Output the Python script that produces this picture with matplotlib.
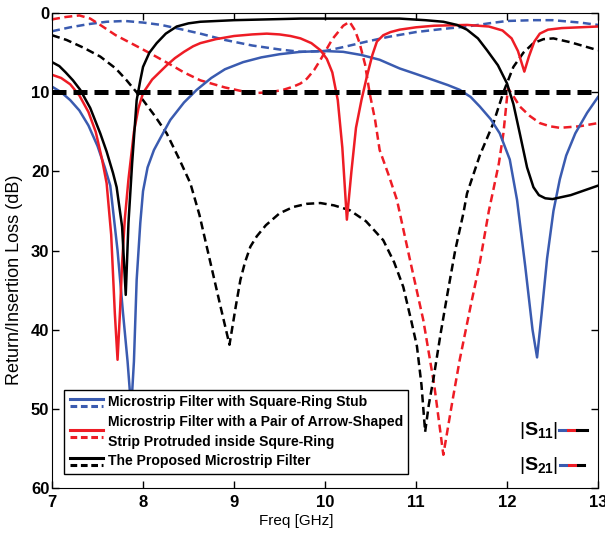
import numpy as np
import matplotlib
matplotlib.use("Agg")
import matplotlib.pyplot as plt
from matplotlib.lines import Line2D
from matplotlib.legend_handler import HandlerBase


plt.rcParams['font.family'] = ['Liberation Sans', 'DejaVu Sans']
plt.rcParams['mathtext.fontset'] = 'custom'
plt.rcParams['mathtext.rm'] = 'Liberation Sans'
plt.rcParams['mathtext.bf'] = 'Liberation Sans:bold'


# Square-ring stub filter, |S11| and |S21| (dB loss)
f_sq_s11 = [7.0, 7.1, 7.2, 7.3, 7.4, 7.5, 7.58, 7.64, 7.72, 7.78, 7.83, 7.87, 7.9, 7.93, 7.97,
            8.0, 8.05, 8.12, 8.19, 8.3, 8.45, 8.59, 8.75, 8.9, 9.1, 9.3, 9.5, 9.73, 10.0,
            10.2, 10.4, 10.6, 10.82, 11.0, 11.2, 11.35, 11.48, 11.6, 11.7, 11.82, 11.92, 12.03,
            12.11, 12.2, 12.28, 12.33, 12.38, 12.44, 12.51, 12.58, 12.65, 12.75, 12.88, 13.0]
sq_s11 = [9.3, 10.0, 11.0, 12.3, 14.2, 16.8, 19.5, 21.8, 30.0, 37.9, 44.0, 50.0, 44.0, 33.7, 26.5,
          22.5, 19.5, 17.3, 15.8, 13.5, 11.3, 9.7, 8.2, 7.1, 6.2, 5.6, 5.2, 4.9, 4.8,
          4.9, 5.3, 5.9, 7.0, 7.7, 8.5, 9.1, 9.7, 10.6, 11.8, 13.4, 15.2, 18.5,
          23.6, 32.0, 40.0, 43.5, 38.0, 31.0, 25.0, 21.0, 18.0, 15.2, 12.6, 10.6]
f_sq_s21 = [7.0, 7.2, 7.4, 7.6, 7.8, 8.0, 8.2, 8.4, 8.63, 8.9, 9.2, 9.5, 9.73, 10.0, 10.2,
            10.46, 10.7, 11.0, 11.3, 11.56, 11.8, 12.0, 12.29, 12.5, 12.8, 13.0]
sq_s21 = [2.3, 1.8, 1.4, 1.1, 1.0, 1.2, 1.5, 2.0, 2.6, 3.4, 4.1, 4.6, 4.9, 4.8, 4.3,
          3.6, 3.0, 2.4, 2.0, 1.7, 1.3, 1.0, 0.9, 0.9, 1.2, 1.5]

# Arrow-shaped strip filter
f_ar_s11 = [7.0, 7.1, 7.2, 7.3, 7.4, 7.48, 7.55, 7.6, 7.65, 7.69, 7.72, 7.75, 7.77, 7.8, 7.84,
            7.9, 7.95, 8.0, 8.1, 8.18, 8.26, 8.35, 8.45, 8.55, 8.63, 8.8, 9.0, 9.2, 9.36, 9.5,
            9.62, 9.73, 9.85, 9.95, 10.02, 10.08, 10.14, 10.19, 10.24, 10.29, 10.34, 10.4,
            10.46, 10.52, 10.57, 10.64, 10.72, 10.82, 11.0, 11.2, 11.56, 11.8, 11.95, 12.05,
            12.12, 12.19, 12.24, 12.3, 12.36, 12.45, 12.6, 12.8, 13.0]
ar_s11 = [7.8, 8.2, 9.0, 10.4, 12.5, 15.0, 18.5, 21.5, 28.0, 37.9, 43.8, 37.0, 31.6, 26.0, 21.0,
          15.0, 12.0, 10.1, 8.4, 7.5, 6.6, 5.7, 4.9, 4.2, 3.8, 3.3, 2.9, 2.7, 2.6, 2.7,
          2.9, 3.2, 3.8, 4.7, 5.8, 7.5, 11.0, 17.0, 26.1, 20.0, 14.5, 11.0,
          8.0, 5.3, 3.6, 2.8, 2.4, 2.1, 1.8, 1.6, 1.5, 1.7, 2.2, 3.2,
          4.8, 7.4, 5.5, 3.6, 2.6, 2.1, 1.9, 1.8, 1.7]
f_ar_s21 = [7.0, 7.15, 7.3, 7.42, 7.53, 7.7, 7.9, 8.08, 8.3, 8.45, 8.63, 8.9, 9.1, 9.25,
            9.4, 9.54, 9.65, 9.73, 9.8, 9.88, 9.95, 10.02, 10.08, 10.13, 10.2, 10.27, 10.33,
            10.38, 10.44, 10.49, 10.55, 10.6, 10.7, 10.79, 10.93, 11.08, 11.2, 11.3, 11.4,
            11.48, 11.6, 11.7, 11.8, 11.85, 11.91, 11.96, 12.01, 12.07, 12.14, 12.25, 12.36,
            12.47, 12.58, 12.8, 13.0]
ar_s21 = [0.8, 0.5, 0.3, 0.7, 1.5, 2.8, 4.0, 5.1, 6.5, 7.5, 8.5, 9.4, 9.9, 10.1,
          10.0, 9.7, 9.3, 8.9, 8.3, 7.2, 5.9, 4.5, 3.3, 2.6, 1.6, 1.1, 2.2,
          3.8, 6.5, 10.1, 13.5, 17.3, 20.5, 23.6, 31.0, 38.8, 47.0, 55.8, 49.0,
          43.8, 37.0, 31.6, 25.0, 22.3, 19.0, 15.2, 9.5, 10.5, 11.8, 13.0, 13.9,
          14.3, 14.5, 14.3, 13.9]

# Proposed filter
f_pr_s11 = [7.0, 7.08, 7.15, 7.23, 7.31, 7.42, 7.53, 7.6, 7.67, 7.71, 7.77, 7.81, 7.84, 7.88,
            7.93, 7.97, 8.0, 8.07, 8.15, 8.25, 8.37, 8.5, 8.63, 9.0, 9.73, 10.5, 10.82, 11.1,
            11.3, 11.45, 11.56, 11.68, 11.78, 11.9, 12.0, 12.07, 12.14, 12.22, 12.29, 12.35,
            12.42, 12.5, 12.7, 13.0]
pr_s11 = [6.2, 6.7, 7.5, 8.5, 9.7, 12.0, 15.2, 17.5, 20.2, 22.0, 27.0, 35.6, 26.5, 19.0,
          11.0, 8.5, 6.8, 5.0, 3.8, 2.6, 1.7, 1.3, 1.1, 0.9, 0.7, 0.7, 0.7, 0.9,
          1.1, 1.5, 2.1, 3.2, 4.7, 6.6, 8.9, 11.5, 15.2, 19.5, 22.0, 23.0,
          23.4, 23.5, 23.0, 21.8]
f_pr_s21 = [7.0, 7.16, 7.35, 7.53, 7.7, 7.82, 8.0, 8.13, 8.26, 8.4, 8.52, 8.62, 8.7, 8.78,
            8.85, 8.95, 9.02, 9.07, 9.12, 9.18, 9.25, 9.35, 9.5, 9.65, 9.8, 9.95, 10.1, 10.27,
            10.45, 10.64, 10.76, 10.86, 10.95, 11.01, 11.06, 11.1, 11.14, 11.19, 11.27, 11.34,
            11.43, 11.52, 11.56, 11.7, 11.85, 11.96, 12.07, 12.18, 12.29, 12.4, 12.51,
            12.7, 12.85, 13.0]
pr_s21 = [2.8, 3.4, 4.4, 5.5, 7.0, 8.5, 11.0, 13.0, 15.2, 18.5, 21.5, 25.5, 29.5, 33.5,
          37.0, 41.9, 37.0, 33.7, 31.5, 29.5, 28.2, 26.8, 25.3, 24.5, 24.1, 24.0, 24.3, 24.9,
          26.3, 28.7, 31.5, 34.6, 39.0, 42.1, 47.0, 52.9, 49.5, 46.3, 40.5, 35.8,
          30.0, 25.3, 22.8, 18.0, 13.9, 10.0, 6.8, 5.0, 3.8, 3.3, 3.2,
          3.7, 4.2, 4.7]

ref_level = 10
legend_labels = ["Microstrip Filter with Square-Ring Stub",
                 "Microstrip Filter with a Pair of Arrow-Shaped\nStrip Protruded inside Squre-Ring",
                 "The Proposed Microstrip Filter"]

BLUE = '#3a5bb0'
RED = '#ee1c25'
BLACK = '#000000'
DASH = (0, (3.2, 1.8))


# legend handle: solid line above, dashed line below
class HandlerPair(HandlerBase):
    def create_artists(self, legend, orig_handle, xdescent, ydescent, width, height,
                       fontsize, trans):
        c = orig_handle.get_color()
        y1 = height * 0.75 - ydescent
        y2 = height * 0.05 - ydescent
        l1 = Line2D([-xdescent, width - xdescent], [y1, y1], color=c, lw=2.2, transform=trans)
        l2 = Line2D([-xdescent, width - xdescent], [y2, y2], color=c, lw=2.2,
                    linestyle=(0, (2.2, 1.2)), transform=trans)
        return [l1, l2]


fig = plt.figure(figsize=(6.05, 5.37), dpi=100)
ax = fig.add_axes([0.086, 0.0912, 0.9025, 0.8845])

ax.plot(f_sq_s21, sq_s21, color=BLUE, lw=1.8, linestyle=DASH)
ax.plot(f_ar_s21, ar_s21, color=RED, lw=1.8, linestyle=DASH)
ax.plot(f_pr_s21, pr_s21, color=BLACK, lw=1.8, linestyle=DASH)
h1, = ax.plot(f_sq_s11, sq_s11, color=BLUE, lw=1.8)
h2, = ax.plot(f_ar_s11, ar_s11, color=RED, lw=1.8)
h3, = ax.plot(f_pr_s11, pr_s11, color=BLACK, lw=1.8)
ax.axhline(ref_level, color=BLACK, lw=3.6, linestyle=(0, (2.8, 1.4)))

ax.set_xlim(7, 13)
ax.set_ylim(60, 0)
ax.set_xticks(np.arange(7, 14, 1))
ax.set_yticks(np.arange(0, 61, 10))
ax.tick_params(direction='in', top=True, right=True, length=5, width=1, labelsize=12)
ax.tick_params(axis='x', pad=5)
ax.tick_params(axis='y', pad=2)
for lab in ax.get_xticklabels() + ax.get_yticklabels():
    lab.set_fontweight('bold')
ax.set_xlabel("Freq [GHz]", fontsize=11, x=0.447, labelpad=3)
ax.set_ylabel("Return/Insertion Loss (dB)", fontsize=13, y=0.438, labelpad=6)

leg = ax.legend([h1, h2, h3], legend_labels, handler_map={Line2D: HandlerPair()},
                loc='lower left', bbox_to_anchor=(0.022, 0.03), fancybox=False,
                edgecolor='black', framealpha=1, handlelength=2.4, handletextpad=0.3,
                labelspacing=0.4, borderpad=0.4, borderaxespad=0,
                prop={'weight': 'bold', 'size': 10.1})
leg.get_frame().set_linewidth(1.0)
for t in leg.get_texts():
    t.set_linespacing(1.5)

# |S11| / |S21| key at lower right
ax.text(0.855, 0.122, r'$|\mathbf{S}_{\mathbf{11}}|$', transform=ax.transAxes,
        fontsize=14, ha='left', va='center')
ax.text(0.855, 0.048, r'$|\mathbf{S}_{\mathbf{21}}|$', transform=ax.transAxes,
        fontsize=14, ha='left', va='center')
seg = [(BLUE, 0.928, 0.945), (RED, 0.945, 0.962), (BLACK, 0.962, 0.979)]
for c, xa, xb in seg:
    ax.plot([xa, xb], [0.122, 0.122], color=c, lw=2.2, transform=ax.transAxes)
    ax.plot([xa + 0.002, xb - 0.004], [0.048, 0.048], color=c, lw=2.2, transform=ax.transAxes)

fig.savefig("out.png", dpi=100)
